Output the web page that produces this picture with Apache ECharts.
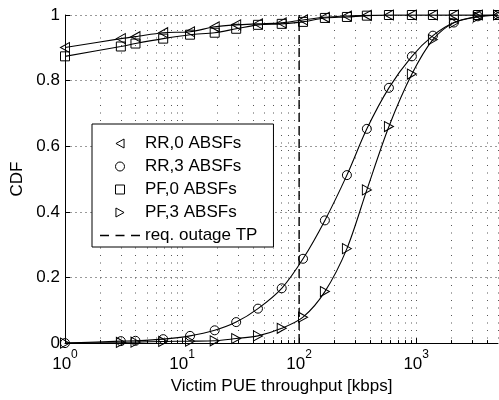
<!DOCTYPE html>
<html>
<head>
<meta charset="utf-8">
<script src="https://cdn.jsdelivr.net/npm/echarts@6/dist/echarts.min.js"></script>
<style>
  html, body { margin: 0; padding: 0; background: #fff; }
  #chart { width: 499px; height: 400px; }
</style>
</head>
<body>
<div id="chart"></div>
<script>
// sample points where the markers sit (kbps)
var throughput = [1, 3, 4, 6.9, 11.7, 19, 29, 44.5, 71, 108, 166, 256, 379, 585, 919, 1390, 2100, 3365, 5000];

var rr0 = [0.901, 0.928, 0.934, 0.946, 0.949, 0.964, 0.970, 0.973, 0.976, 0.985, 0.993, 0.997, 0.999, 1, 1, 1, 1, 1, 1];
var rr3 = [0.0, 0.006, 0.007, 0.012, 0.022, 0.039, 0.064, 0.105, 0.167, 0.257, 0.374, 0.512, 0.653, 0.778, 0.874, 0.937, 0.977, 0.996, 1];
var pf0 = [0.874, 0.904, 0.913, 0.928, 0.940, 0.946, 0.958, 0.970, 0.973, 0.979, 0.991, 0.994, 0.998, 1, 1, 1, 1, 1, 1];
var pf3 = [0.0, 0.002, 0.003, 0.005, 0.006, 0.007, 0.014, 0.022, 0.045, 0.079, 0.157, 0.288, 0.467, 0.660, 0.820, 0.925, 0.976, 0.994, 1];

var reqTP = 100;
var seriesNames = ['RR,0 ABSFs', 'RR,3 ABSFs', 'PF,0 ABSFs', 'PF,3 ABSFs', 'req. outage TP'];
var minorX = [2, 3, 4, 5, 6, 7, 8, 9, 20, 30, 40, 50, 60, 70, 80, 90,
              200, 300, 400, 500, 600, 700, 800, 900, 2000, 3000, 4000];

var triLeft = 'path://M0,5 L9,0 L9,10 Z';
var triRight = 'path://M9,5 L0,0 L0,10 Z';
var square = 'path://M0,0 L10,0 L10,10 L0,10 Z';
var dashIcon = 'path://M0,0 L9,0 L9,1.4 L0,1.4 Z M15.5,0 L24.5,0 L24.5,1.4 L15.5,1.4 Z M31,0 L40,0 L40,1.4 L31,1.4 Z';
var FONT = 'Liberation Sans, Arial, sans-serif';

function pairs(ys) {
  return throughput.map(function (x, i) { return [x, ys[i]]; });
}

function curve(name, ys, symbol, size) {
  return {
    name: name,
    type: 'line',
    data: pairs(ys),
    smooth: 0.3,
    symbol: symbol,
    symbolSize: size,
    showAllSymbol: true,
    lineStyle: { color: '#000', width: 1.1 },
    itemStyle: { color: 'rgba(0,0,0,0)', borderColor: '#000', borderWidth: 1 },
    z: 5
  };
}

var hollow = { color: '#fff', borderColor: '#000', borderWidth: 1 };

var chart = echarts.init(document.getElementById('chart'));
chart.setOption({
  animation: false,
  backgroundColor: '#fff',
  textStyle: { fontFamily: FONT },
  grid: { left: 65, top: 15, right: 1, bottom: 51 },
  legend: {
    orient: 'vertical',
    left: 92,
    top: 124,
    backgroundColor: '#fff',
    borderColor: '#000',
    borderWidth: 1,
    borderRadius: 0,
    padding: [11, 16, 3, 8],
    itemWidth: 40,
    itemHeight: 9,
    itemGap: 6,
    textStyle: { fontFamily: FONT, fontSize: 17, color: '#000' },
    data: [
      { name: seriesNames[0], icon: triLeft, itemStyle: hollow },
      { name: seriesNames[1], icon: 'circle', itemStyle: hollow },
      { name: seriesNames[2], icon: square, itemStyle: hollow },
      { name: seriesNames[3], icon: triRight, itemStyle: hollow },
      { name: seriesNames[4], icon: dashIcon, itemStyle: { color: '#000', borderWidth: 0 } }
    ]
  },
  xAxis: {
    type: 'log',
    logBase: 10,
    min: 1,
    max: 5000,
    name: 'Victim PUE throughput [kbps]',
    nameLocation: 'middle',
    nameGap: 33,
    nameTextStyle: { fontFamily: FONT, fontSize: 17, color: '#000' },
    axisLine: { lineStyle: { color: '#000', width: 1 } },
    axisTick: { inside: true, length: 5, lineStyle: { color: '#000' } },
    axisLabel: {
      margin: 6,
      showMaxLabel: false,
      formatter: function (v) {
        var e = Math.log10(v);
        if (Math.abs(e - Math.round(e)) > 1e-6) return '';
        return '{b|10}{s|' + Math.round(e) + '}';
      },
      rich: {
        b: { fontFamily: FONT, fontSize: 17, color: '#000', lineHeight: 24, verticalAlign: 'bottom' },
        s: { fontFamily: FONT, fontSize: 12, color: '#000', lineHeight: 12, verticalAlign: 'top' }
      }
    },
    splitLine: { show: true, lineStyle: { color: '#555', type: [1, 6.5], width: 1 } }
  },
  yAxis: {
    type: 'value',
    min: 0,
    max: 1,
    interval: 0.2,
    name: 'CDF',
    nameLocation: 'middle',
    nameGap: 38,
    nameTextStyle: { fontFamily: FONT, fontSize: 17, color: '#000' },
    axisLine: { show: true, lineStyle: { color: '#000', width: 1 } },
    axisTick: { show: true, inside: true, length: 5, lineStyle: { color: '#000' } },
    axisLabel: { margin: 5, fontFamily: FONT, fontSize: 17, color: '#000' },
    splitLine: { show: true, lineStyle: { color: '#9a9a9a', type: [2, 3], width: 1 } }
  },
  series: [
    {
      name: 'minor',
      type: 'custom',
      silent: true,
      z: 1,
      data: minorX.map(function (x) { return [x, 0]; }),
      encode: { x: 0, y: 1 },
      renderItem: function (params, api) {
        var top = api.coord([api.value(0), 1]);
        var bot = api.coord([api.value(0), 0]);
        var x = Math.round(top[0]) + 0.5;
        return {
          type: 'group',
          children: [
            { type: 'line', shape: { x1: x, y1: top[1], x2: x, y2: bot[1] },
              style: { stroke: '#555', lineWidth: 1, lineDash: [1, 6.5] } },
            { type: 'line', shape: { x1: x, y1: bot[1], x2: x, y2: bot[1] - 3 },
              style: { stroke: '#000', lineWidth: 1 } }
          ]
        };
      }
    },
    curve(seriesNames[0], rr0, triLeft, [9, 10]),
    curve(seriesNames[1], rr3, 'circle', 9),
    curve(seriesNames[2], pf0, square, 9),
    curve(seriesNames[3], pf3, triRight, [9, 10]),
    {
      name: seriesNames[4],
      type: 'line',
      data: [[reqTP, 0], [reqTP, 1]],
      symbol: 'none',
      lineStyle: { color: '#000', width: 1.4, type: [9, 4] },
      itemStyle: { color: '#000' },
      z: 4
    }
  ]
});
</script>
</body>
</html>
